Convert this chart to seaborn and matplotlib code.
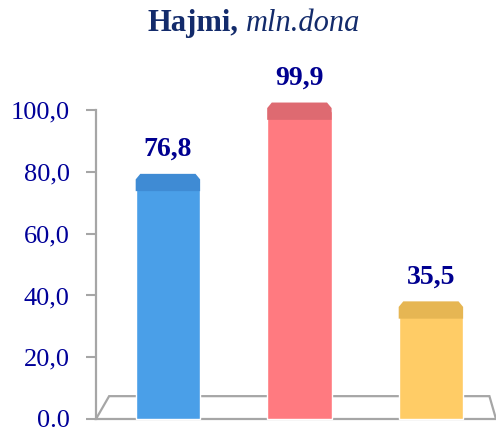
import matplotlib
matplotlib.use("Agg")
import matplotlib.pyplot as plt
import seaborn as sns
import pandas as pd
from matplotlib.patches import Polygon

# chart data
categories = ["1", "2", "3"]
values = [76.8, 99.9, 35.5]
value_labels = ["76,8", "99,9", "35,5"]
yticks = [0, 20, 40, 60, 80, 100]
ytick_labels = ["0.0", "20,0", "40,0", "60,0", "80,0", "100,0"]

face_colors = ["#4A9FE8", "#FF7A80", "#FFCC66"]
cap_colors = ["#3F8BD4", "#DE6A71", "#E6B653"]

sns.set_style("white")
plt.rcParams["font.family"] = ["Liberation Serif", "DejaVu Serif"]

fig = plt.figure(figsize=(4.96, 4.30), dpi=100)
ax = fig.add_axes([0.1935, 0.0256, 0.8065, 0.718])

df = pd.DataFrame({"cat": categories, "val": values})
sns.barplot(data=df, x="cat", y="val", hue="cat", palette=face_colors,
            saturation=1, width=0.49, legend=False, ax=ax, zorder=3)

ax.set_xlim(-0.547, 2.495)
ax.set_ylim(0, 100)

# floor of the 3d box
x0, x1 = ax.get_xlim()
floor = Polygon([(x0, 0), (x1, 0), (x1 - 0.05, 7.4), (x0 + 0.1, 7.4)],
                closed=True, facecolor="white", edgecolor="#A6A6A6",
                linewidth=1.6, clip_on=False, zorder=1)
ax.add_patch(floor)

# darker bevel caps + labels
for p, cap, lab in zip(ax.patches[:len(values)], cap_colors, value_labels):
    p.set_clip_on(False)
    bx, bw, h = p.get_x(), p.get_width(), p.get_height()
    d = 0.035
    cap_poly = Polygon([(bx, h - 3.0), (bx, h + 0.8), (bx + d, h + 2.6),
                        (bx + bw - d, h + 2.6), (bx + bw, h + 0.8), (bx + bw, h - 3.0)],
                       closed=True, facecolor=cap, edgecolor="none", zorder=4,
                       clip_on=False)
    ax.add_patch(cap_poly)
    ax.annotate(lab, (bx + bw / 2, h + 2.6), xytext=(0, 13), textcoords="offset points",
                ha="center", va="baseline", fontsize=20, fontweight="bold",
                color="#000090", annotation_clip=False)

ax.set_yticks(yticks)
ax.set_yticklabels(ytick_labels)
ax.set_xticks([])
ax.set_xlabel("")
ax.set_ylabel("")
ax.tick_params(axis="y", length=7, width=1.5, color="#A6A6A6", pad=12,
               labelsize=19, labelcolor="#000099", left=True)
for s in ["top", "right", "bottom"]:
    ax.spines[s].set_visible(False)
ax.spines["left"].set_color("#A6A6A6")
ax.spines["left"].set_linewidth(1.6)

fig.text(238 / 496, 1 - 31 / 430, "Hajmi,", ha="right", va="baseline",
         fontsize=22, fontweight="bold", color="#132B6B")
fig.text(246 / 496, 1 - 31 / 430, "mln.dona", ha="left", va="baseline",
         fontsize=22, fontstyle="italic", color="#132B6B")

fig.savefig("out.png", dpi=100)
